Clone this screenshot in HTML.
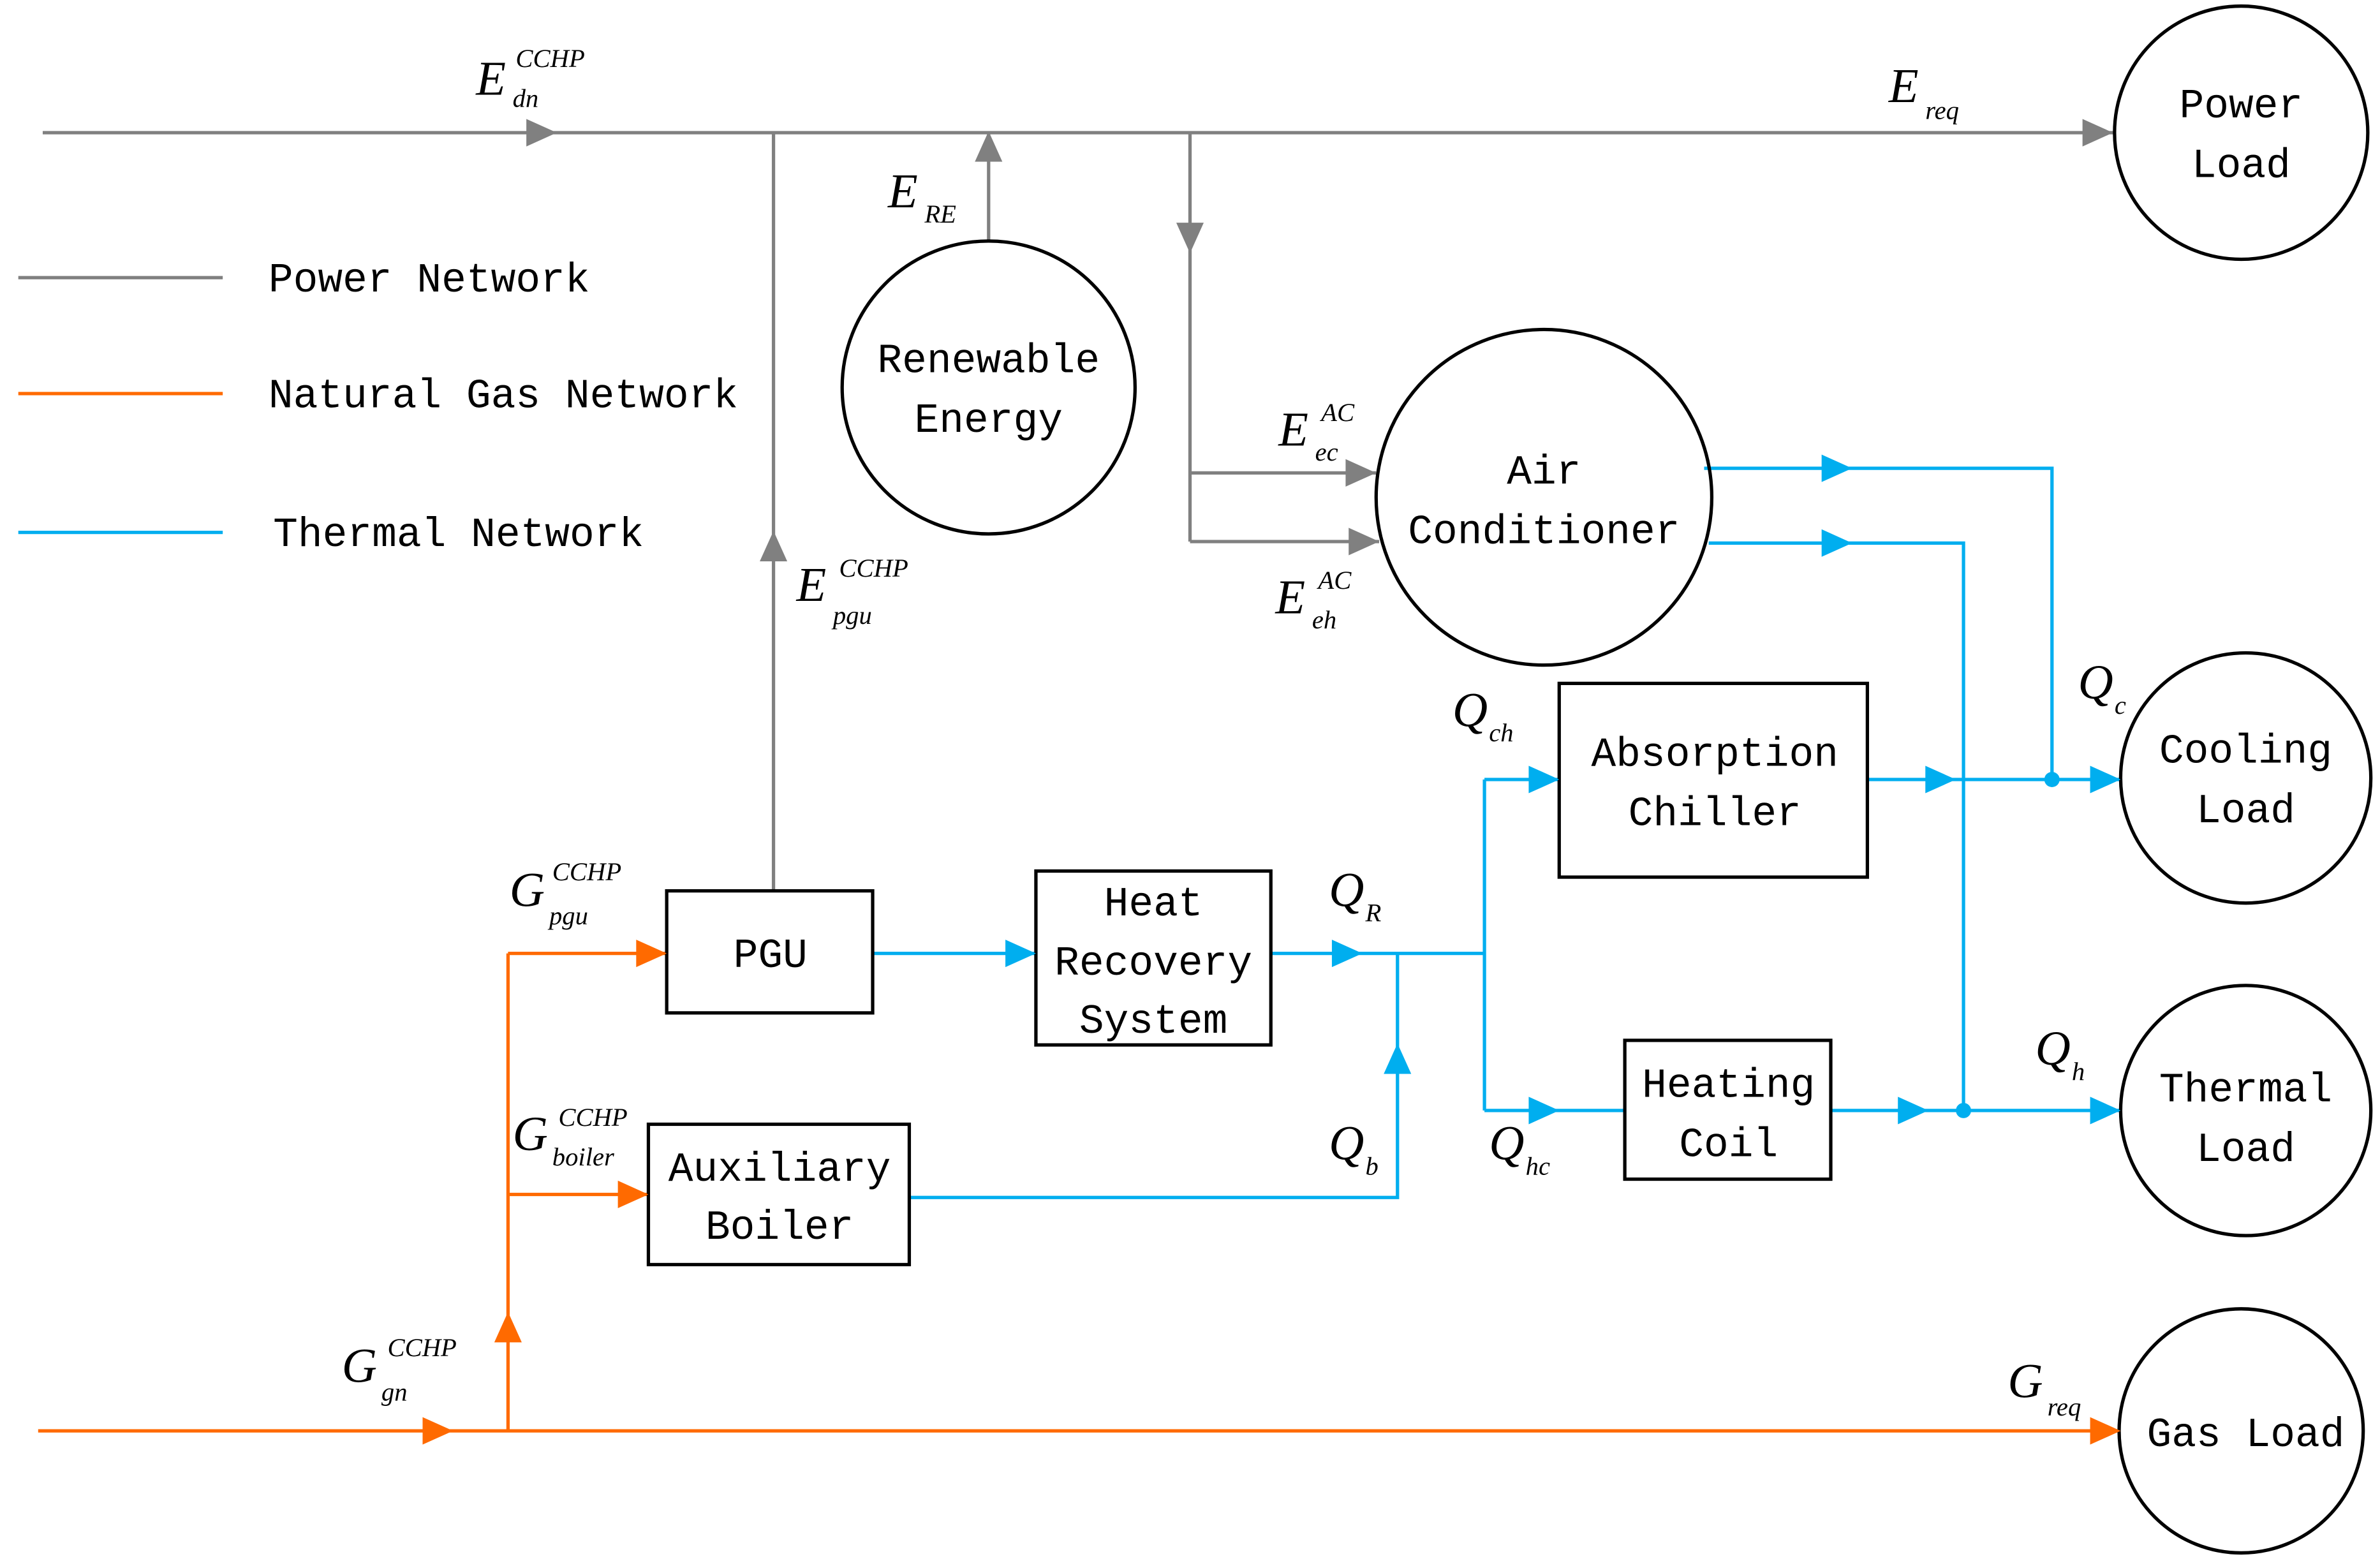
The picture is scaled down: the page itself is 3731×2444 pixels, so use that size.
<!DOCTYPE html>
<html><head><meta charset="utf-8"><style>html,body{margin:0;padding:0;background:#fff}svg{display:block}</style></head>
<body>
<svg width="3731" height="2444" viewBox="0 0 1560 1022" preserveAspectRatio="none" xmlns="http://www.w3.org/2000/svg">
<defs>
<marker id="ag" markerWidth="10" markerHeight="10" refX="9" refY="5" orient="auto" markerUnits="userSpaceOnUse" viewBox="0 0 10 10"><path d="M0,0 L10,5 L0,10 z" fill="#808080"/></marker>
</defs>
<g fill="none" stroke-width="2.2">
<!-- power -->
<g stroke="#808080">
<line x1="28" y1="87" x2="1385" y2="87"/>
<line x1="507" y1="87" x2="507" y2="584"/>
<line x1="648" y1="158" x2="648" y2="87"/>
<line x1="780" y1="87" x2="780" y2="355"/>
<line x1="780" y1="310" x2="902" y2="310"/>
<line x1="780" y1="355" x2="904" y2="355"/>
<line x1="12" y1="182" x2="146" y2="182"/>
</g>
<!-- gas -->
<g stroke="#FF6A00">
<line x1="25" y1="938" x2="1390" y2="938"/>
<line x1="333" y1="938" x2="333" y2="625"/>
<line x1="333" y1="625" x2="437" y2="625"/>
<line x1="333" y1="783" x2="425" y2="783"/>
<line x1="12" y1="258" x2="146" y2="258"/>
</g>
<!-- thermal -->
<g stroke="#00AEEF">
<line x1="572" y1="625" x2="679" y2="625"/>
<line x1="833" y1="625" x2="973" y2="625"/>
<line x1="973" y1="511" x2="973" y2="728"/>
<line x1="973" y1="511" x2="1022" y2="511"/>
<line x1="973" y1="728" x2="1065" y2="728"/>
<polyline points="596,785 916,785 916,625"/>
<line x1="1224" y1="511" x2="1390" y2="511"/>
<line x1="1200" y1="728" x2="1390" y2="728"/>
<polyline points="1117,307 1345,307 1345,511"/>
<polyline points="1120,356 1287,356 1287,728"/>
<line x1="12" y1="349" x2="146" y2="349"/>
</g>
<!-- shapes -->
<g stroke="#000">
<circle cx="1469" cy="87" r="83"/>
<circle cx="648" cy="254" r="96"/>
<circle cx="1012" cy="326" r="110"/>
<circle cx="1472" cy="510" r="82"/>
<circle cx="1472" cy="728" r="82"/>
<circle cx="1469" cy="938" r="80"/>
<rect x="1022" y="448" width="202" height="127"/>
<rect x="1065" y="682" width="135" height="91"/>
<rect x="437" y="584" width="135" height="80"/>
<rect x="679" y="571" width="154" height="114"/>
<rect x="425" y="737" width="171" height="92"/>
</g>
</g>
<!-- arrowheads -->
<g fill="#808080">
<path d="M365,87 l-20,-9 v18 z"/>
<path d="M1385,87 l-20,-9 v18 z"/>
<path d="M507,348 l-9,20 h18 z"/>
<path d="M648,86 l-9,20 h18 z"/>
<path d="M780,166 l-9,-20 h18 z"/>
<path d="M902,310 l-20,-9 v18 z"/>
<path d="M904,355 l-20,-9 v18 z"/>
</g>
<g fill="#FF6A00">
<path d="M297,938 l-20,-9 v18 z"/>
<path d="M1390,938 l-20,-9 v18 z"/>
<path d="M333,860 l-9,20 h18 z"/>
<path d="M437,625 l-20,-9 v18 z"/>
<path d="M425,783 l-20,-9 v18 z"/>
</g>
<g fill="#00AEEF">
<path d="M679,625 l-20,-9 v18 z"/>
<path d="M893,625 l-20,-9 v18 z"/>
<path d="M916,684 l-9,20 h18 z"/>
<path d="M1022,511 l-20,-9 v18 z"/>
<path d="M1022,728 l-20,-9 v18 z"/>
<path d="M1214,307 l-20,-9 v18 z"/>
<path d="M1214,356 l-20,-9 v18 z"/>
<path d="M1282,511 l-20,-9 v18 z"/>
<path d="M1390,511 l-20,-9 v18 z"/>
<path d="M1264,728 l-20,-9 v18 z"/>
<path d="M1390,728 l-20,-9 v18 z"/>
<circle cx="1345" cy="511" r="5"/>
<circle cx="1287" cy="728" r="5"/>
</g>
<!-- text -->
<g font-family="Liberation Mono, monospace" font-size="27" fill="#000" text-anchor="middle">
<text x="1469" y="77">Power</text><text x="1469" y="116">Load</text>
<text x="648" y="244">Renewable</text><text x="648" y="283">Energy</text>
<text x="1012" y="317">Air</text><text x="1012" y="356">Conditioner</text>
<text x="1472" y="500">Cooling</text><text x="1472" y="539">Load</text>
<text x="1472" y="722">Thermal</text><text x="1472" y="761">Load</text>
<text x="1472" y="948">Gas Load</text>
<text x="1124" y="502">Absorption</text><text x="1124" y="541">Chiller</text>
<text x="1133" y="719">Heating</text><text x="1133" y="758">Coil</text>
<text x="505" y="634">PGU</text>
<text x="756" y="600">Heat</text><text x="756" y="639">Recovery</text><text x="756" y="677">System</text>
<text x="511" y="774">Auxiliary</text><text x="511" y="812">Boiler</text>
</g>
<g font-family="Liberation Mono, monospace" font-size="27" fill="#000">
<text x="176" y="191">Power Network</text>
<text x="176" y="267">Natural Gas Network</text>
<text x="179" y="358">Thermal Network</text>
</g>
<g font-family="Liberation Serif, serif" font-style="italic" fill="#000" font-size="32">
<text x="312" y="62">E</text><text x="338" y="44" font-size="17">CCHP</text><text x="336" y="70" font-size="17">dn</text>
<text x="1238" y="67">E</text><text x="1262" y="78" font-size="17">req</text>
<text x="582" y="136">E</text><text x="606" y="146" font-size="17">RE</text>
<text x="522" y="394">E</text><text x="550" y="378" font-size="17">CCHP</text><text x="546" y="409" font-size="17">pgu</text>
<text x="838" y="292">E</text><text x="866" y="276" font-size="17">AC</text><text x="862" y="302" font-size="17">ec</text>
<text x="836" y="402">E</text><text x="864" y="386" font-size="17">AC</text><text x="860" y="412" font-size="17">eh</text>
<text x="334" y="594">G</text><text x="362" y="577" font-size="17">CCHP</text><text x="360" y="606" font-size="17">pgu</text>
<text x="336" y="754">G</text><text x="366" y="738" font-size="17">CCHP</text><text x="362" y="764" font-size="17">boiler</text>
<text x="224" y="906">G</text><text x="254" y="889" font-size="17">CCHP</text><text x="250" y="918" font-size="17">gn</text>
<text x="1316" y="916">G</text><text x="1342" y="928" font-size="17">req</text>
<text x="952" y="476">Q</text><text x="976" y="486" font-size="17">ch</text>
<text x="871" y="594">Q</text><text x="895" y="604" font-size="17">R</text>
<text x="871" y="760">Q</text><text x="895" y="770" font-size="17">b</text>
<text x="976" y="760">Q</text><text x="1000" y="770" font-size="17">hc</text>
<text x="1362" y="458">Q</text><text x="1386" y="468" font-size="17">c</text>
<text x="1334" y="698">Q</text><text x="1358" y="708" font-size="17">h</text>
</g>
</svg>
</body></html>
